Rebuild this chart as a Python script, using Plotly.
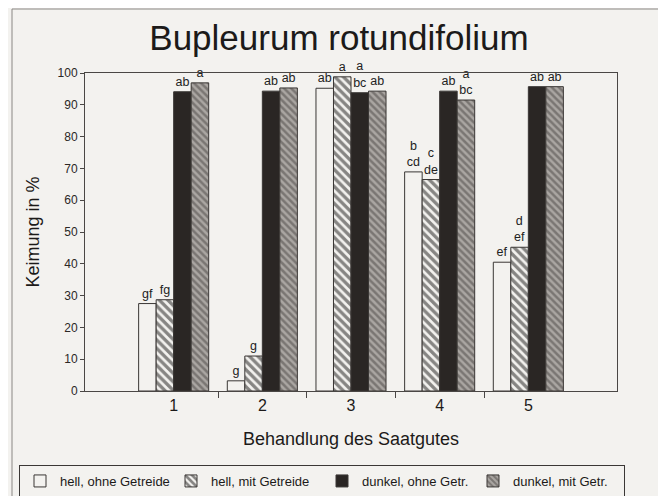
import plotly.graph_objects as go

categories = [1, 2, 3, 4, 5]
tick_labels = ["1", "2", "3", "4", "5"]

series_names = ["hell, ohne Getreide", "hell, mit Getreide", "dunkel, ohne Getr.", "dunkel, mit Getr."]
hell_ohne = [27.5, 3.2, 95.2, 68.9, 40.5]
hell_mit = [28.7, 11.0, 98.8, 66.5, 45.2]
dunkel_ohne = [94.1, 94.3, 93.8, 94.3, 95.7]
dunkel_mit = [96.9, 95.3, 94.3, 91.5, 95.7]

letters_hell_ohne = ["gf", "g", "ab", "b<br>cd", "ef"]
letters_hell_mit = ["fg", "g", "a", "c<br>de", "d<br>ef"]
letters_dunkel_ohne = ["ab", "ab", "a<br>bc", "ab", "ab"]
letters_dunkel_mit = ["a", "ab", "ab", "a<br>bc", "ab"]

y_ticks = [0, 10, 20, 30, 40, 50, 60, 70, 80, 90, 100]

FONT = "Liberation Sans, Arial, Helvetica, sans-serif"
PAPER = "#f3f2ef"
INK = "#2b2826"

# figure is placed inside the page body (8px default margin); size chosen to fill the window
W, H = 658, 488
L, R, T, B = 77, 49, 65, 105
PW, PH = W - L - R, H - T - B

fig = go.Figure()

styles = [
    dict(color=PAPER, pattern=None),
    dict(color=PAPER, pattern=dict(shape="\\", fgcolor="#1a1817", bgcolor=PAPER, size=6, solidity=0.55)),
    dict(color="#2a2624", pattern=None),
    dict(color="#a6a29e", pattern=dict(shape="\\", fgcolor="#4a4643", bgcolor="#aaa6a2", size=5, solidity=0.5)),
]
values = [hell_ohne, hell_mit, dunkel_ohne, dunkel_mit]
letters = [letters_hell_ohne, letters_hell_mit, letters_dunkel_ohne, letters_dunkel_mit]

for name, vals, st, lt in zip(series_names, values, styles, letters):
    marker = dict(color=st["color"], line=dict(color="#3a3735", width=1))
    if st["pattern"] is not None:
        marker["pattern"] = st["pattern"]
    fig.add_trace(go.Bar(
        x=categories, y=vals, name=name, marker=marker,
        text=lt, textposition="outside", constraintext="none", cliponaxis=False,
        textfont=dict(family=FONT, size=12.5, color="#222"),
        texttemplate="%{text}", hoverinfo="skip",
    ))

fig.update_layout(
    width=W, height=H,
    margin=dict(l=L, r=R, t=T, b=B, autoexpand=False),
    paper_bgcolor=PAPER, plot_bgcolor=PAPER,
    font=dict(family=FONT, color=INK),
    barmode="group", bargap=0.21, bargroupgap=0,
    title=dict(text="Bupleurum rotundifolium", xref="container", x=0.503, xanchor="center",
               y=0.94, yanchor="middle", font=dict(size=35, color="#1c1a19")),
    showlegend=True,
    legend=dict(orientation="h", x=(11 - L) / PW, xanchor="left",
                y=(H - B - 473) / PH, yanchor="middle",
                bordercolor="#3a3735", borderwidth=1, bgcolor=PAPER,
                font=dict(size=13, color="#1c1a19"),
                entrywidth=106, entrywidthmode="pixels", itemwidth=30,
                traceorder="normal"),
)

fig.update_xaxes(
    range=[0, 6], tickmode="array", tickvals=categories, ticktext=tick_labels,
    ticks="", showgrid=False, zeroline=False, automargin=False,
    showline=True, linecolor="#4a4745", linewidth=1, mirror=True,
    tickfont=dict(size=16, color="#1c1a19"),
    minor=dict(tickmode="array", tickvals=[1.5, 2.5, 3.5, 4.5], ticks="outside", ticklen=6, tickcolor="#4a4745"),
    title=dict(text="Behandlung des Saatgutes", font=dict(size=18, color="#1c1a19"), standoff=19),
)
fig.update_yaxes(
    range=[0, 100], tickmode="array", tickvals=y_ticks, automargin=False,
    ticks="outside", ticklen=4, tickcolor="#4a4745", showgrid=False, zeroline=False,
    showline=True, linecolor="#4a4745", linewidth=1, mirror=True,
    tickfont=dict(size=12, color="#2b2826"),
    title=dict(text="Keimung in %", font=dict(size=18, color="#1c1a19"), standoff=13),
)

# outer frame of the scanned figure
fig.add_shape(type="rect", xref="paper", yref="paper",
              x0=(4 - L) / PW, x1=(651 - L) / PW, y0=(H - B - 500) / PH, y1=(H - B - 1) / PH,
              line=dict(color="#8a8784", width=1), fillcolor="rgba(0,0,0,0)", layer="below")

fig.write_html("out.html")
